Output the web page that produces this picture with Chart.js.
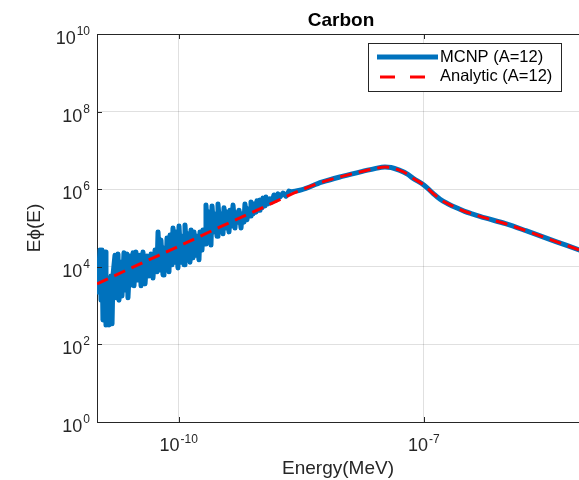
<!DOCTYPE html>
<html>
<head>
<meta charset="utf-8">
<script src="https://cdn.jsdelivr.net/npm/chart.js@4.4.1/dist/chart.umd.min.js"></script>
<style>
    html, body { margin: 0; padding: 0; background: #fff; }
</style>
</head>
<body>
<canvas id="chart" width="579" height="480"></canvas>
<script>
// values are log10 of energy (MeV) and log10 of E*phi(E)
const mcnpLogEnergy = [
    -11.000, -10.988, -10.976, -10.963, -10.951, -10.939, -10.927, -10.902, -10.890, -10.865,
    -10.853, -10.829, -10.816, -10.804, -10.780, -10.767, -10.743, -10.731, -10.706, -10.694,
    -10.670, -10.657, -10.633, -10.621, -10.596, -10.584, -10.559, -10.547, -10.523, -10.498,
    -10.474, -10.461, -10.437, -10.412, -10.388, -10.364, -10.339, -10.315, -10.290, -10.266,
    -10.253, -10.229, -10.217, -10.192, -10.180, -10.155, -10.143, -10.119, -10.106, -10.082,
    -10.070, -10.045, -10.033, -10.009, -9.996, -9.972, -9.960, -9.935, -9.923, -9.898,
    -9.886, -9.862, -9.849, -9.825, -9.813, -9.788, -9.776, -9.752, -9.739, -9.715,
    -9.703, -9.678, -9.666, -9.641, -9.629, -9.605, -9.592, -9.568, -9.556, -9.531,
    -9.519, -9.494, -9.482, -9.458, -9.446, -9.421, -9.409, -9.384, -9.372, -9.348,
    -9.335, -9.311, -9.299, -9.274, -9.262, -9.237, -9.225, -9.201, -9.189, -9.164,
    -9.152, -9.127, -9.115, -9.091, -9.078, -9.054, -9.042, -9.017, -9.005, -8.980,
    -8.968, -8.944, -8.932, -8.907, -8.883, -8.858, -8.834, -8.809, -8.785, -8.760,
    -8.723, -8.687, -8.650, -8.613,
    -8.5, -8.25, -8.0, -7.75, -7.6, -7.475, -7.4, -7.3, -7.2, -7.13,
    -7.0, -6.89, -6.8, -6.7, -6.6, -6.5, -6.4, -6.25, -6.0, -5.75,
    -5.5, -5.25, -5.0
];
const mcnpLogFlux = [
    3.92, 3.35, 3.97, 4.43, 3.14, 4.43, 2.63, 4.38, 2.50, 3.40,
    2.50, 3.76, 2.53, 3.79, 4.30, 3.20, 4.33, 3.14, 4.12, 3.25,
    4.36, 3.40, 4.33, 3.20, 4.28, 3.53, 4.36, 3.51, 4.38, 3.66,
    4.30, 3.51, 4.38, 3.56, 4.28, 3.76, 4.33, 3.71, 4.43, 3.87,
    4.90, 3.92, 4.69, 3.79, 4.48, 3.92, 4.74, 3.87, 4.82, 4.05,
    5.00, 4.12, 4.90, 3.97, 5.05, 4.12, 4.79, 4.05, 5.08, 4.23,
    4.85, 4.12, 4.95, 4.23, 4.90, 4.30, 4.79, 4.18, 4.90, 4.43,
    4.95, 4.59, 5.59, 4.69, 5.41, 4.56, 5.57, 4.90, 5.36, 4.79,
    5.62, 4.95, 5.36, 4.85, 5.52, 5.00, 5.41, 4.90, 5.46, 5.05,
    5.59, 5.00, 5.39, 5.15, 5.46, 5.00, 5.36, 5.15, 5.62, 5.21,
    5.49, 5.31, 5.67, 5.36, 5.62, 5.41, 5.70, 5.46, 5.72, 5.52,
    5.77, 5.57, 5.80, 5.62, 5.75, 5.67, 5.85, 5.72, 5.88, 5.80,
    5.90, 5.82, 5.95, 5.93,
    5.98, 6.18, 6.33, 6.46, 6.53, 6.57, 6.56, 6.49, 6.39, 6.28,
    6.11, 5.90, 5.74, 5.62, 5.52, 5.43, 5.36, 5.26, 5.11, 4.93,
    4.74, 4.55, 4.36
];

const analyticLogEnergy = [
    -11.0, -10.5, -10.0, -9.5, -9.0, -8.5, -8.25, -8.0, -7.75, -7.6,
    -7.475, -7.4, -7.3, -7.2, -7.13, -7.0, -6.89, -6.8, -6.7, -6.6,
    -6.5, -6.4, -6.25, -6.0, -5.75, -5.5, -5.25, -5.0
];
const analyticLogFlux = [
    3.56, 4.05, 4.53, 5.02, 5.50, 5.98, 6.18, 6.33, 6.46, 6.53,
    6.57, 6.56, 6.49, 6.39, 6.28, 6.11, 5.90, 5.74, 5.62, 5.52,
    5.43, 5.36, 5.26, 5.11, 4.93, 4.74, 4.55, 4.36
];

const xTickExp = [-10, -7];
const yTickExp = [0, 2, 4, 6, 8, 10];
const seriesLabels = ['MCNP (A=12)', 'Analytic (A=12)'];
const chartTitle = 'Carbon';

const BLUE = '#0072bd';
const RED = '#ff0000';
const AXIS = '#262626';
const FONT = '"Liberation Sans", Arial, sans-serif';

const toPoints = (lx, ly) => lx.map((v, i) => ({ x: Math.pow(10, v), y: Math.pow(10, ly[i]) }));

// the noisy low-energy part is drawn with straight segments, the rest smoothed
const mcnpPoints = toPoints(mcnpLogEnergy, mcnpLogFlux);
const noiseEnd = mcnpLogEnergy.findIndex(v => v > -8.62);
const mcnpNoisy = mcnpPoints.slice(0, noiseEnd + 1);
const mcnpSmooth = mcnpPoints.slice(noiseEnd);

// заголовок, подписи 10^n, рамка, внутренние засечки и легенда в стиле MATLAB
const matlabAxes = {
    id: 'matlabAxes',
    afterDraw(chart) {
        const { ctx, chartArea: area, scales } = chart;
        const xs = scales.x, ys = scales.y;
        ctx.save();

        // title
        ctx.fillStyle = '#000';
        ctx.font = 'bold 19px ' + FONT;
        ctx.textAlign = 'center';
        ctx.textBaseline = 'alphabetic';
        ctx.fillText(chartTitle, 341, 26);

        // top border
        ctx.strokeStyle = AXIS;
        ctx.lineWidth = 1;
        ctx.beginPath();
        ctx.moveTo(area.left, area.top + 0.5);
        ctx.lineTo(area.right, area.top + 0.5);
        ctx.stroke();

        // inner ticks
        ctx.beginPath();
        xTickExp.forEach(e => {
            const px = Math.round(xs.getPixelForValue(Math.pow(10, e))) + 0.5;
            ctx.moveTo(px, area.bottom); ctx.lineTo(px, area.bottom - 5);
            ctx.moveTo(px, area.top); ctx.lineTo(px, area.top + 5);
        });
        yTickExp.forEach(e => {
            const py = Math.round(ys.getPixelForValue(Math.pow(10, e))) + 0.5;
            ctx.moveTo(area.left, py); ctx.lineTo(area.left + 5, py);
        });
        ctx.stroke();

        // tick labels
        ctx.fillStyle = AXIS;
        const big = '18px ' + FONT, small = '12px ' + FONT;
        yTickExp.forEach(e => {
            const py = ys.getPixelForValue(Math.pow(10, e));
            const exp = String(e);
            ctx.font = small;
            const ew = ctx.measureText(exp).width;
            const right = 90;
            ctx.textAlign = 'right';
            ctx.fillText(exp, right, py + 1);
            ctx.font = big;
            ctx.fillText('10', right - ew - 1, py + 10);
        });
        xTickExp.forEach(e => {
            const px = xs.getPixelForValue(Math.pow(10, e));
            const exp = String(e);
            ctx.font = big;
            const bw = ctx.measureText('10').width;
            ctx.font = small;
            const ew = ctx.measureText(exp).width;
            const start = px - (bw + ew + 1) / 2;
            ctx.textAlign = 'left';
            ctx.font = big;
            ctx.fillText('10', start, 451);
            ctx.font = small;
            ctx.fillText(exp, start + bw + 1, 443);
        });

        // legend
        const lx = 368.5, ly = 43.5, lw = 193, lh = 48;
        ctx.fillStyle = '#fff';
        ctx.fillRect(lx, ly, lw, lh);
        ctx.strokeStyle = AXIS;
        ctx.lineWidth = 1;
        ctx.strokeRect(lx, ly, lw, lh);

        ctx.lineCap = 'butt';
        ctx.strokeStyle = BLUE;
        ctx.lineWidth = 5;
        ctx.beginPath();
        ctx.moveTo(377, 57); ctx.lineTo(438, 57);
        ctx.stroke();

        ctx.strokeStyle = RED;
        ctx.lineWidth = 3;
        ctx.setLineDash([15, 15]);
        ctx.beginPath();
        ctx.moveTo(380, 77); ctx.lineTo(425, 77);
        ctx.stroke();
        ctx.setLineDash([]);

        ctx.fillStyle = '#000';
        ctx.font = '16.5px ' + FONT;
        ctx.textAlign = 'left';
        ctx.textBaseline = 'middle';
        ctx.fillText(seriesLabels[0], 440, 57);
        ctx.fillText(seriesLabels[1], 440, 76);

        ctx.restore();
    }
};

const chartEx = document.getElementById('chart');

new Chart(chartEx, {
    type: 'line',
    data: {
        datasets: [
            {
                label: seriesLabels[0],
                data: mcnpNoisy,
                borderColor: BLUE,
                borderWidth: 5,
                borderJoinStyle: 'round',
                pointRadius: 0,
                tension: 0,
                order: 3
            },
            {
                label: seriesLabels[0],
                data: mcnpSmooth,
                borderColor: BLUE,
                borderWidth: 5,
                borderJoinStyle: 'round',
                pointRadius: 0,
                cubicInterpolationMode: 'monotone',
                order: 2
            },
            {
                label: seriesLabels[1],
                data: toPoints(analyticLogEnergy, analyticLogFlux),
                borderColor: RED,
                borderWidth: 3,
                borderDash: [12, 7],
                pointRadius: 0,
                cubicInterpolationMode: 'monotone',
                order: 1
            }
        ]
    },
    options: {
        responsive: false,
        animation: false,
        events: [],
        layout: { padding: { top: 34, left: 0, right: 0, bottom: 0 } },
        plugins: {
            legend: { display: false },
            tooltip: { enabled: false },
            title: { display: false }
        },
        scales: {
            x: {
                type: 'logarithmic',
                min: 1e-11,
                max: 7.94e-6,
                afterBuildTicks: scale => {
                    scale.ticks = xTickExp.map(e => ({ value: Math.pow(10, e) }));
                },
                afterFit: scale => { scale.height = 58; },
                ticks: { display: false },
                grid: { color: 'rgba(0,0,0,0.12)', drawTicks: false },
                border: { display: true, color: AXIS, width: 1 },
                title: {
                    display: true,
                    text: 'Energy(MeV)',
                    color: AXIS,
                    font: { family: FONT, size: 19 },
                    padding: { top: 0, bottom: 0 }
                }
            },
            y: {
                type: 'logarithmic',
                min: 1,
                max: 1e10,
                afterBuildTicks: scale => {
                    scale.ticks = yTickExp.map(e => ({ value: Math.pow(10, e) }));
                },
                afterFit: scale => { scale.width = 97; },
                ticks: { display: false },
                grid: { color: 'rgba(0,0,0,0.12)', drawTicks: false },
                border: { display: true, color: AXIS, width: 1 },
                title: {
                    display: true,
                    text: 'Eϕ(E)',
                    color: AXIS,
                    font: { family: FONT, size: 19 },
                    padding: { top: 23, bottom: 0 }
                }
            }
        }
    },
    plugins: [matlabAxes]
});
</script>
</body>
</html>
